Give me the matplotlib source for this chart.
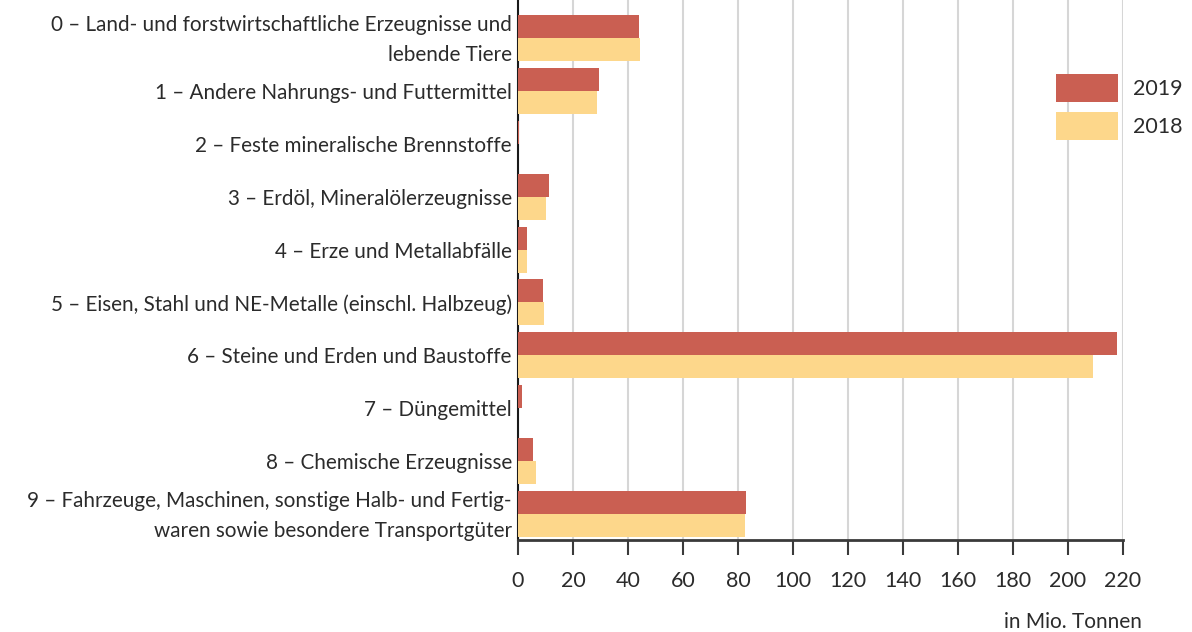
import numpy as np
import matplotlib.pyplot as plt

plt.rcParams['font.family'] = ['Lato', 'DejaVu Sans']

# Güterabteilungen (NST-2007)
categories = [
    '0 – Land- und forstwirtschaftliche Erzeugnisse und\nlebende Tiere',
    '1 – Andere Nahrungs- und Futtermittel',
    '2 – Feste mineralische Brennstoffe',
    '3 – Erdöl, Mineralölerzeugnisse',
    '4 – Erze und Metallabfälle',
    '5 – Eisen, Stahl und NE-Metalle (einschl. Halbzeug)',
    '6 – Steine und Erden und Baustoffe',
    '7 – Düngemittel',
    '8 – Chemische Erzeugnisse',
    '9 – Fahrzeuge, Maschinen, sonstige Halb- und Fertig-\nwaren sowie besondere Transportgüter',
]

# in Mio. Tonnen
values_2019 = [43.9, 29.4, 0.3, 11.2, 3.2, 9.0, 217.7, 1.3, 5.3, 82.8]
values_2018 = [44.2, 28.6, 0.05, 10.1, 3.2, 9.3, 209.0, 0.05, 6.4, 82.4]

color_2019 = '#CA5F52'
color_2018 = '#FDD78B'
text_color = '#2b2b2b'

fig = plt.figure(figsize=(11.92, 6.32), dpi=100)
ax = fig.add_axes([518 / 1192, 1 - 540 / 632, 605 / 1192, 540 / 632])

y = np.arange(len(categories))
h = 0.435
ax.barh(y - h / 2, values_2019, height=h, color=color_2019, label='2019', zorder=3)
ax.barh(y + h / 2, values_2018, height=h, color=color_2018, label='2018', zorder=3)

ax.set_xlim(0, 220)
ax.set_ylim(9.49, -0.718)
ax.set_xticks(range(0, 221, 20))
ax.set_yticks(y)
ax.set_yticklabels([])
ax.tick_params(axis='y', length=0)
ax.tick_params(axis='x', length=11, width=1.5, color='#3a3a3a', pad=11,
               labelsize=15.5, labelcolor=text_color)

# category labels, one text per line (30 px line pitch)
line_pitch = 30 * 0.72
for yi, label in zip(y, categories):
    lines = label.split('\n')
    n = len(lines)
    for j, line in enumerate(lines):
        off = (j - (n - 1) / 2) * line_pitch
        ax.annotate(line, xy=(0, yi), xycoords=('axes fraction', 'data'),
                    xytext=(-4.5, -off), textcoords='offset points',
                    ha='right', va='center_baseline', fontsize=14.9,
                    color=text_color)

ax.grid(axis='x', color='#d6d6d6', linewidth=1.5, zorder=0)
for side in ['top', 'right']:
    ax.spines[side].set_visible(False)
ax.spines['left'].set_color('#1a1a1a')
ax.spines['left'].set_linewidth(1.5)
ax.spines['left'].set_zorder(2)
ax.spines['bottom'].set_color('#3a3a3a')
ax.spines['bottom'].set_linewidth(2)

ax.legend(loc='upper left', bbox_to_anchor=(1056 / 1192, 1 - 74 / 632),
          bbox_transform=fig.transFigure, frameon=False, fontsize=15.5,
          borderpad=0, borderaxespad=0,
          handlelength=2.88, handleheight=1.6, handletextpad=0.7,
          labelspacing=0.49, labelcolor=text_color)

fig.text(1142 / 1192, 1 - 622 / 632, 'in Mio. Tonnen', ha='right', va='center',
         fontsize=15, color=text_color)

fig.savefig('out.png', dpi=100)
